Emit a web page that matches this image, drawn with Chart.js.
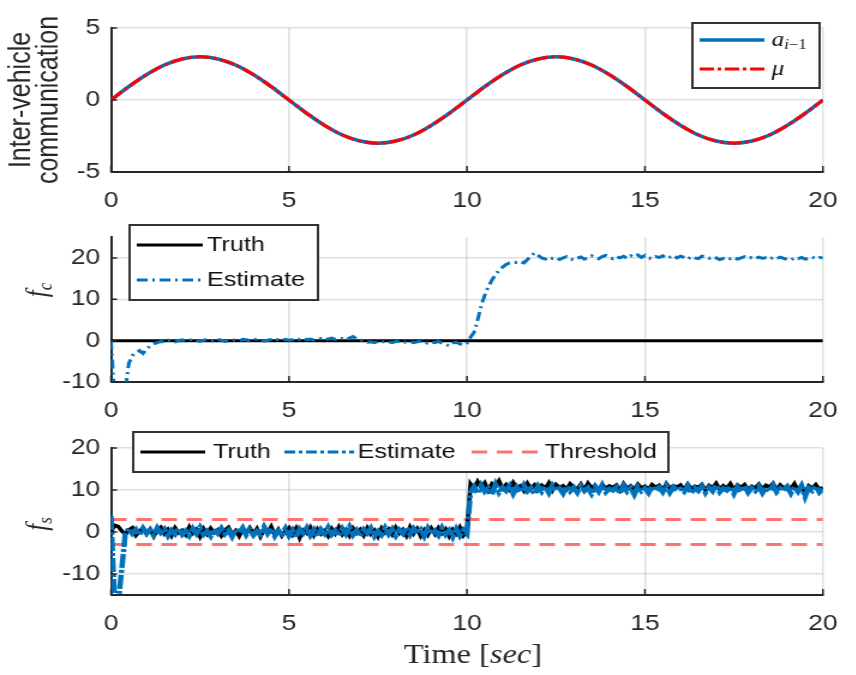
<!DOCTYPE html>
<html>
<head>
<meta charset="utf-8">
<title>Fault estimation</title>
<script src="https://cdn.jsdelivr.net/npm/chart.js@4.4.1/dist/chart.umd.min.js"></script>
<style>
  html, body { margin: 0; padding: 0; background: #fff; }
  #figure { position: relative; width: 856px; height: 675px; overflow: hidden; }
  .panel { position: absolute; left: 0; transform-origin: 0 0; transform: scaleX(1.2); }
</style>
</head>
<body>
<div id="figure">
  <canvas id="commChart" class="panel" width="714" height="215" style="top:0px"></canvas>
  <canvas id="fcChart" class="panel" width="714" height="210" style="top:215px"></canvas>
  <canvas id="fsChart" class="panel" width="714" height="250" style="top:425px"></canvas>
</div>
<script>
// ---- data ----
const commStep = 0.5;   // sec
const commAlpha = [0, 0.93, 1.76, 2.43, 2.85, 3.0, 2.85, 2.43, 1.76, 0.93,
                   0, -0.93, -1.76, -2.43, -2.85, -3.0, -2.85, -2.43, -1.76, -0.93,
                   0, 0.93, 1.76, 2.43, 2.85, 3.0, 2.85, 2.43, 1.76, 0.93,
                   0, -0.93, -1.76, -2.43, -2.85, -3.0, -2.85, -2.43, -1.76, -0.93, 0];
const commMu = [0, 0.93, 1.76, 2.43, 2.85, 3.0, 2.85, 2.43, 1.76, 0.93,
                0, -0.93, -1.76, -2.43, -2.85, -3.0, -2.85, -2.43, -1.76, -0.93,
                0, 0.93, 1.76, 2.43, 2.85, 3.0, 2.85, 2.43, 1.76, 0.93,
                0, -0.93, -1.76, -2.43, -2.85, -3.0, -2.85, -2.43, -1.76, -0.93, 0];

const sampleStep = 0.1; // sec, for f_c and f_s
const fcTruthTime = [0, 20];
const fcTruth = [0, 0];
const fcEstimate = [
  0,
  -14, -14, -14, -12, -5.5, -3.6, -3.0, -2.4, -3.1, -2.0,
  -1.3, -0.8, -0.5, -0.2, -0.3, 0.1, -0.1, -0.3, 0.0, 0.2,
  -0.1, 0.1, 0.3, 0.0, -0.2, 0.1, 0.2, -0.1, 0.0, 0.3,
  0.1, -0.2, 0.0, 0.2, 0.1, -0.1, 0.3, 0.2, 0.0, 0.1,
  0.4, 0.2, -0.1, 0.1, 0.3, 0.5, 0.2, 0.0, 0.3, 0.1,
  0.2, 0.5, 0.3, 0.6, 0.2, 0.4, 0.1, 0.3, 0.5, 0.2,
  0.4, 0.6, 0.3, 0.7, 0.5, 0.2, 0.6, 1.0, 0.4, 0.3,
  -0.2, -0.4, -0.3, -0.5, -0.2, -0.4, -0.1, -0.3, -0.5, -0.2,
  -0.1, -0.3, -0.4, -0.2, -0.5, -0.3, -0.1, -0.4, -0.6, -0.3,
  -0.5, -0.2, -0.6, -0.9, -1.3, -0.6, -0.4, -0.8, -1.1, -0.6,
  0.8, 2.0, 5.0, 8.5, 11.0, 13.0, 14.6, 15.9, 17.0, 17.8,
  18.4, 18.8, 19.0, 18.9, 19.1, 18.8, 19.6, 20.5, 21.2, 20.6,
  20.0, 19.7, 20.2, 19.9, 20.1, 19.6, 20.0, 20.3, 19.8, 19.5,
  19.9, 20.2, 19.7, 20.0, 20.5, 20.1, 19.8, 20.3, 20.6, 20.2,
  19.8, 20.3, 20.0, 20.4, 19.9, 20.5, 20.2, 20.7, 20.1, 20.6,
  20.0, 19.8, 20.3, 20.1, 20.5, 19.9, 20.2, 20.6, 20.0, 20.4,
  20.1, 19.7, 20.3, 20.0, 19.8, 20.4, 20.2, 19.9, 20.3, 20.0,
  19.6, 19.9, 20.2, 19.8, 20.1, 19.7, 20.0, 20.3, 19.9, 20.1,
  19.8, 20.2, 19.9, 20.0, 19.7, 20.1, 19.8, 20.2, 19.9, 19.6,
  19.5, 20.0, 19.8, 20.1, 19.7, 19.9, 20.2, 19.8, 20.1, 20.0
];

const fsTruth = [
  0.0,
  1.6, 1.3, 0.3, -0.6, 0.5, 1.0, -0.8, 0.2, 0.9, -0.5,
  0.7, -1.0, 0.3, 1.1, -0.4, 0.6, -0.9, 1.0, -0.2, 0.4,
  -0.7, 1.2, -0.3, 0.6, -1.1, 0.8, -0.5, 0.9, -0.2, 0.5,
  -0.9, 0.4, 1.1, -0.6, 0.3, -1.0, 0.7, -0.3, 1.0, -0.4,
  0.8, -1.1, 0.5, -0.2, 1.3, -0.7, 0.6, -0.9, 0.2, 1.0,
  -0.6, 0.9, -1.4, 0.4, -0.3, 1.1, -0.8, 0.7, -0.5, 0.3,
  -1.0, 0.8, -0.4, 1.2, -0.6, 0.5, -0.9, 0.9, -0.3, 0.6,
  -0.8, 1.0, -0.5, 0.4, -1.1, 0.9, -0.2, 0.7, -0.6, 1.1,
  -0.3, 0.6, -0.9, 1.2, -0.4, 0.8, -1.0, 0.5, -0.7, 0.9,
  -0.5, 1.0, -0.3, 0.7, -1.0, 0.6, -0.4, 1.1, -0.8, 0.4,
  11.4, 10.2, 12.0, 10.6, 11.7, 9.9, 11.5, 10.8, 12.2, 10.4,
  11.3, 10.1, 11.8, 10.5, 11.0, 9.8, 11.6, 10.3, 11.2, 10.0,
  11.1, 10.4, 11.7, 9.9, 11.3, 10.6, 11.0, 10.2, 11.5, 10.7,
  10.3, 11.4, 10.0, 11.6, 10.5, 11.1, 9.8, 11.3, 10.4, 11.0,
  10.6, 11.2, 9.9, 11.5, 10.3, 11.0, 10.1, 11.4, 10.5, 10.9,
  10.2, 11.3, 10.6, 11.1, 9.9, 11.5, 10.4, 11.0, 10.7, 11.2,
  10.1, 11.4, 10.3, 10.9, 10.6, 11.3, 9.9, 11.1, 10.5, 11.6,
  10.2, 11.0, 10.4, 11.5, 10.0, 11.2, 10.6, 11.3, 10.1, 10.9,
  10.5, 11.4, 10.2, 11.1, 10.7, 11.6, 10.0, 11.2, 10.4, 11.0,
  10.3, 11.5, 9.9, 11.2, 9.0, 11.0, 10.4, 11.3, 10.1, 10.6
];
const fsEstimate = [
  3.8,
  -17, -17, -9, -0.5, 0.8, -0.4, 0.6, -0.7, 0.9, -0.3,
  0.5, -0.8, 1.0, -0.2, 0.7, -0.9, 0.4, -0.5, 0.9, -0.6,
  0.3, -0.9, 0.8, -0.4, 1.1, -0.6, 0.2, -1.0, 0.7, -0.3,
  0.9, -0.5, 0.4, -1.1, 0.6, -0.2, 1.0, -0.7, 0.5, -0.8,
  0.2, -0.6, 1.2, -0.4, 0.8, -1.0, 0.3, -0.5, 0.9, -0.9,
  0.4, -1.3, 0.7, -0.3, 1.0, -0.8, 0.5, -1.1, 0.6, -0.4,
  1.1, -0.6, 0.3, -0.9, 0.8, -0.5, 1.2, -0.7, 0.4, -1.0,
  0.6, -0.3, 0.9, -1.0, 0.2, -0.7, 1.0, -0.5, 0.7, -0.9,
  0.5, -0.4, 1.1, -0.6, 0.8, -0.3, 0.6, -1.0, 0.9, -0.5,
  0.3, -0.8, 1.0, -0.6, 0.4, -1.2, 0.7, -0.9, 0.5, -0.4,
  9.5, 10.8, 9.2, 11.1, 9.6, 10.4, 8.9, 11.3, 9.4, 10.6,
  9.8, 11.0, 9.1, 10.7, 9.5, 11.2, 9.7, 10.5, 9.0, 10.9,
  9.6, 10.8, 9.3, 11.1, 9.9, 10.4, 9.2, 10.9, 9.7, 10.6,
  9.4, 11.0, 9.8, 10.5, 9.1, 10.8, 9.6, 11.2, 9.5, 10.3,
  9.9, 10.7, 9.2, 11.0, 9.6, 10.5, 8.9, 10.8, 9.7, 10.4,
  9.3, 10.9, 9.8, 10.6, 9.5, 11.1, 9.4, 10.7, 9.9, 10.3,
  9.6, 11.0, 9.2, 10.5, 9.8, 10.9, 9.3, 10.6, 9.7, 11.2,
  9.5, 10.4, 9.9, 10.8, 9.1, 10.7, 9.6, 11.0, 9.4, 10.5,
  9.8, 10.9, 9.3, 10.6, 9.7, 11.1, 9.5, 10.4, 9.9, 10.8,
  9.2, 10.7, 9.6, 11.0, 8.4, 10.5, 9.8, 10.9, 9.4, 10.2
];
const thresholdTime = [0, 20];
const thresholdLevels = [3, -3];

const xTicks = [0, 5, 10, 15, 20];

// ---- layout / style ----
const SX = 1.2;                // panels are drawn narrow and stretched horizontally
const AXIS_LEFT = 111 / SX;    // left edge of every plot area
const AXIS_RIGHT = 836 / SX;
const CANVAS_W = 714;
const INK = '#262626';
const GRID = 'rgba(0,0,0,0.13)';
const BLUE = '#0072bd';
const THRESH = 'rgba(255,60,60,0.72)';
const SANS = '"Liberation Sans", Arial, sans-serif';
const SERIF = '"Liberation Serif", "DejaVu Serif", serif';

Chart.defaults.font.family = SANS;
Chart.defaults.color = INK;

function toPoints(step, values) {
  return values.map((v, i) => ({ x: Math.round(i * step * 100) / 100, y: v }));
}
function pairPoints(xs, ys) {
  return xs.map((x, i) => ({ x: x, y: ys[i] }));
}

function scales(yMin, yMax, yStep) {
  return {
    x: {
      type: 'linear', min: 0, max: 20,
      afterBuildTicks: s => { s.ticks = xTicks.map(v => ({ value: v })); },
      afterFit: s => { s.height = 40; },
      ticks: { padding: 16, font: { size: 22 }, color: INK, maxRotation: 0 },
      grid: { color: GRID, lineWidth: 1.5, drawTicks: false },
      border: { color: INK, width: 2 }
    },
    y: {
      min: yMin, max: yMax,
      afterFit: s => { s.width = AXIS_LEFT; },
      ticks: { stepSize: yStep, includeBounds: false, padding: 9, font: { size: 22 }, color: INK },
      grid: { color: GRID, lineWidth: 1.5, drawTicks: false },
      border: { color: INK, width: 2 }
    }
  };
}

// write a list of text runs (font, offset) starting at x
function drawRuns(ctx, runs, x, y) {
  runs.forEach(r => {
    ctx.font = r.font;
    ctx.fillText(r.t, x, y + (r.dy || 0));
    x += ctx.measureText(r.t).width;
  });
}
function runsWidth(ctx, runs) {
  let w = 0;
  runs.forEach(r => { ctx.font = r.font; w += ctx.measureText(r.t).width; });
  return w;
}

// axis decorations, labels and the boxed legend
function makeDecor(spec) {
  return {
    id: 'decor',
    afterDraw(chart) {
      const ctx = chart.ctx;
      const xs = chart.scales.x, ys = chart.scales.y;
      ctx.save();

      // inward tick marks
      ctx.strokeStyle = INK;
      ctx.lineWidth = 1.5;
      ctx.beginPath();
      xs.ticks.forEach(t => {
        const px = xs.getPixelForValue(t.value);
        ctx.moveTo(px, ys.bottom);
        ctx.lineTo(px, ys.bottom - 6);
      });
      ys.ticks.forEach(t => {
        const py = ys.getPixelForValue(t.value);
        ctx.moveTo(xs.left, py);
        ctx.lineTo(xs.left + 5, py);
      });
      ctx.stroke();

      // rotated y labels
      ctx.fillStyle = INK;
      ctx.textBaseline = 'middle';
      (spec.ylabel || []).forEach(lbl => {
        ctx.save();
        ctx.translate(lbl.x, lbl.y);
        ctx.rotate(-Math.PI / 2);
        drawRuns(ctx, lbl.runs, -runsWidth(ctx, lbl.runs) / 2, 0);
        ctx.restore();
      });

      // x label
      if (spec.xlabel) {
        const w = runsWidth(ctx, spec.xlabel.runs);
        drawRuns(ctx, spec.xlabel.runs, spec.xlabel.x - w / 2, spec.xlabel.y);
      }

      // legend
      const lg = spec.legend;
      if (lg) {
        ctx.fillStyle = '#fff';
        ctx.fillRect(lg.x, lg.y, lg.w, lg.h);
        ctx.strokeStyle = '#333';
        ctx.lineWidth = 2;
        ctx.strokeRect(lg.x, lg.y, lg.w, lg.h);
        lg.items.forEach(it => {
          ctx.beginPath();
          ctx.setLineDash(it.dash || []);
          ctx.strokeStyle = it.color;
          ctx.lineWidth = it.width;
          ctx.moveTo(it.x0, it.y);
          ctx.lineTo(it.x1, it.y);
          ctx.stroke();
          ctx.setLineDash([]);
          ctx.fillStyle = '#111';
          ctx.textBaseline = 'middle';
          drawRuns(ctx, it.runs, it.tx, it.y);
        });
      }
      ctx.restore();
    }
  };
}

const baseOptions = (sc, pad) => ({
  responsive: false,
  animation: false,
  layout: { padding: pad },
  plugins: { legend: { display: false }, tooltip: { enabled: false } },
  elements: { point: { radius: 0 } },
  scales: sc
});

const legendFont = '21px ' + SANS;

// ---- inter-vehicle communication ----
new Chart(document.getElementById('commChart'), {
  type: 'line',
  data: {
    datasets: [
      {
        data: toPoints(commStep, commMu),
        borderColor: '#ff0000', borderWidth: 3, borderDash: [12, 3, 3, 3],
        cubicInterpolationMode: 'monotone'
      },
      {
        data: toPoints(commStep, commAlpha),
        borderColor: BLUE, borderWidth: 3.5,
        cubicInterpolationMode: 'monotone'
      }
    ]
  },
  options: baseOptions(scales(-5, 5, 5), { top: 28, bottom: 3, left: 0, right: CANVAS_W - AXIS_RIGHT }),
  plugins: [makeDecor({
    ylabel: [
      { x: 18.5, y: 100, runs: [{ t: 'Inter-vehicle', font: '25px ' + SANS }] },
      { x: 41.5, y: 100, runs: [{ t: 'communication', font: '25px ' + SANS }] }
    ],
    legend: {
      x: 577, y: 23, w: 106, h: 65,
      items: [
        { x0: 583, x1: 637, y: 40, color: BLUE, width: 3.5, tx: 643,
          runs: [{ t: 'a', font: 'italic 21px ' + SERIF }, { t: 'i', font: 'italic 14px ' + SERIF, dy: 5 },
                 { t: '\u22121', font: '14px ' + SERIF, dy: 5 }] },
        { x0: 583, x1: 637, y: 69, color: '#ff0000', width: 3, dash: [12, 3, 3, 3], tx: 643,
          runs: [{ t: '\u03bc', font: 'italic 21px ' + SERIF }] }
      ]
    }
  })]
});

// ---- f_c ----
new Chart(document.getElementById('fcChart'), {
  type: 'line',
  data: {
    datasets: [
      {
        data: toPoints(sampleStep, fcEstimate),
        borderColor: BLUE, borderWidth: 3, borderDash: [9, 4, 2, 4]
      },
      {
        data: pairPoints(fcTruthTime, fcTruth),
        borderColor: '#000', borderWidth: 3
      }
    ]
  },
  options: baseOptions(scales(-10, 25, 10), { top: 22, bottom: 3, left: 0, right: CANVAS_W - AXIS_RIGHT }),
  plugins: [makeDecor({
    ylabel: [
      { x: 32.5, y: 75, runs: [{ t: 'f', font: 'italic 25px ' + SERIF }, { t: 'c', font: 'italic 17px ' + SERIF, dy: 6 }] }
    ],
    legend: {
      x: 108, y: 10, w: 157, h: 75,
      items: [
        { x0: 114, x1: 169, y: 30, color: '#000', width: 3, tx: 172.5,
          runs: [{ t: 'Truth', font: legendFont }] },
        { x0: 114, x1: 169, y: 65, color: BLUE, width: 3, dash: [9, 4, 2, 4], tx: 172.5,
          runs: [{ t: 'Estimate', font: legendFont }] }
      ]
    }
  })]
});

// ---- f_s ----
const thresholdSets = thresholdLevels.map(level => ({
  data: pairPoints(thresholdTime, thresholdTime.map(() => level)),
  borderColor: THRESH, borderWidth: 3, borderDash: [13, 8]
}));

new Chart(document.getElementById('fsChart'), {
  type: 'line',
  data: {
    datasets: [
      {
        data: toPoints(sampleStep, fsEstimate),
        borderColor: BLUE, borderWidth: 4.5, borderDash: [14, 2, 3, 2]
      },
      {
        data: toPoints(sampleStep, fsTruth),
        borderColor: '#000', borderWidth: 3.5
      }
    ].concat(thresholdSets)
  },
  options: baseOptions(scales(-15, 20, 10), { top: 23, bottom: 40, left: 0, right: CANVAS_W - AXIS_RIGHT }),
  plugins: [makeDecor({
    ylabel: [
      { x: 32.5, y: 99, runs: [{ t: 'f', font: 'italic 25px ' + SERIF }, { t: 's', font: 'italic 17px ' + SERIF, dy: 6 }] }
    ],
    xlabel: {
      x: 394, y: 231,
      runs: [{ t: 'Time [', font: '27px ' + SERIF }, { t: 'sec', font: 'italic 27px ' + SERIF }, { t: ']', font: '27px ' + SERIF }]
    },
    legend: {
      x: 111, y: 7, w: 446, h: 40,
      items: [
        { x0: 117, x1: 171, y: 27, color: '#000', width: 3, tx: 177.5,
          runs: [{ t: 'Truth', font: legendFont }] },
        { x0: 237, x1: 295, y: 27, color: BLUE, width: 3, dash: [9, 3, 3, 3], tx: 298,
          runs: [{ t: 'Estimate', font: legendFont }] },
        { x0: 393, x1: 450, y: 27, color: THRESH, width: 3, dash: [13, 8], tx: 454,
          runs: [{ t: 'Threshold', font: legendFont }] }
      ]
    }
  })]
});
</script>
</body>
</html>
